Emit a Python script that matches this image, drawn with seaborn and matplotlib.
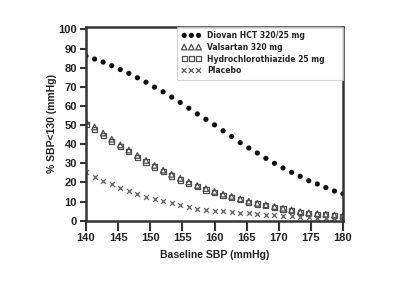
import matplotlib
matplotlib.use("Agg")
import matplotlib.pyplot as plt
from matplotlib import font_manager
import numpy as np
import pandas as pd
import seaborn as sb

# baseline SBP sampled every 4/3 mmHg from 140 to 180 (31 points)
baseline = np.linspace(140, 180, 31)

diovan = [86, 84.5, 82.9, 81, 79, 77, 74.7, 72.4, 69.8, 67.4, 64.6, 61.8, 58.8, 55.8, 53,
          50.1, 47, 44, 40.8, 38, 35.4, 32.6, 30, 27.6, 25.3, 23.2, 20.9, 19.2, 17.3, 15.5, 14.1]
valsartan = [52, 49, 45.8, 42.6, 39.6, 36.9, 34.1, 31.5, 28.9, 26.4, 24.2, 22.1, 20.3, 18.4, 16.8,
             15.3, 13.9, 12.7, 11.4, 10.2, 9.1, 8.3, 7.4, 6.5, 5.6, 4.7, 4.2, 3.7, 3.4, 3.0, 2.7]
hctz = [50.4, 47.6, 44.6, 41.6, 38.7, 36.0, 33.2, 30.7, 28.1, 25.6, 23.4, 21.3, 19.6, 17.7, 16.1,
        14.6, 13.3, 12.1, 10.9, 9.7, 8.7, 7.8, 7.0, 6.1, 5.2, 4.4, 3.9, 3.4, 3.1, 2.7, 2.4]
placebo = [25.3, 23, 20.9, 19.2, 17.1, 15.7, 14.1, 12.6, 11.4, 10.3, 9.1, 8, 7.2, 6.3, 5.8,
           5.2, 4.9, 4.3, 4.0, 3.8, 3.5, 3.1, 2.8, 2.6, 2.3, 2.1, 1.8, 1.6, 1.4, 1.2, 1.0]

labels = ["Diovan HCT 320/25 mg", "Valsartan 320 mg", "Hydrochlorothiazide 25 mg", "Placebo"]

df = pd.DataFrame({
    "Baseline SBP (mmHg)": np.tile(baseline, 4),
    "pct": diovan + valsartan + hctz + placebo,
    "group": np.repeat(labels, len(baseline)),
})

sb.set_style("white")
plt.rcParams["font.family"] = ["Liberation Sans", "DejaVu Sans"]
plt.rcParams["font.weight"] = "bold"

# condensed face for the legend, if one is around
names = {f.name for f in font_manager.fontManager.ttflist}
if "Liberation Sans Narrow" in names:
    leg_font = dict(family="Liberation Sans Narrow", weight="bold", size=7.0)
else:
    leg_font = dict(family="DejaVu Sans", stretch="condensed", weight="bold", size=6.1)

fig = plt.figure(figsize=(4, 2.81), dpi=100)
ax = fig.add_axes([0.215, 0.2145, 0.6425, 0.6905])

styles = {
    labels[0]: dict(marker="o", s=14, color="#111111", edgecolor="none"),
    labels[1]: dict(marker="^", s=16, facecolor="none", edgecolor="#4d4d4d", linewidth=0.9),
    labels[2]: dict(marker="s", s=14, facecolor="none", edgecolor="#4d4d4d", linewidth=0.9),
    labels[3]: dict(marker="x", s=12, color="#606060", linewidth=0.9),
}
for g in labels:
    sub = df[df["group"] == g]
    sb.scatterplot(data=sub, x="Baseline SBP (mmHg)", y="pct", ax=ax, label=g, **styles[g])

ax.set_xlim(140, 180)
ax.set_ylim(0, 101.4)
ax.set_xticks(range(140, 181, 5))
ax.set_yticks(range(0, 101, 10))
ax.set_xlabel("Baseline SBP (mmHg)", fontsize=7.5, fontweight="bold", color="#222222", labelpad=5)
ax.set_ylabel("% SBP<130 (mmHg)", fontsize=7.5, fontweight="bold", color="#222222", labelpad=1)
ax.tick_params(axis="both", direction="out", width=1.5, color="#333333",
               labelsize=8, labelcolor="#222222", pad=2, left=True, bottom=True)
ax.tick_params(axis="x", length=7)
ax.tick_params(axis="y", length=4.5)
for sp in ax.spines.values():
    sp.set_linewidth(1.8)
    sp.set_color("#333333")

leg = ax.legend(loc="upper left", bbox_to_anchor=(0.354, 0, 0.646, 1.0), mode="expand",
                borderaxespad=0, scatterpoints=3, scatteryoffsets=[0.5],
                prop=leg_font, frameon=True, fancybox=False, handlelength=2.3,
                handletextpad=0.7, labelspacing=0.32, borderpad=0.55)
leg.get_frame().set_edgecolor("#cccccc")
leg.get_frame().set_linewidth(0.8)
for t in leg.get_texts():
    t.set_color("#222222")

fig.savefig("out.png", dpi=100)
